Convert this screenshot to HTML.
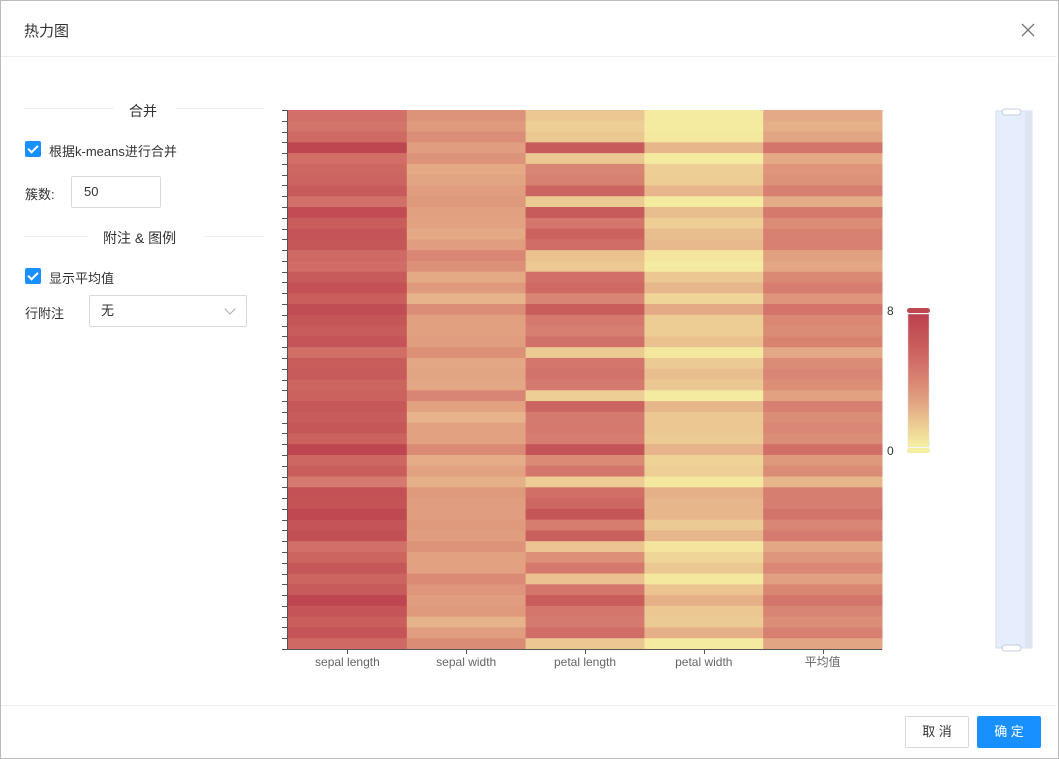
<!DOCTYPE html>
<html><head><meta charset="utf-8">
<style>
body{margin:0;width:1059px;height:759px;background:#fff;font-family:"Liberation Sans","Noto Sans CJK SC",sans-serif;color:#333;overflow:hidden;position:relative}
.abs{position:absolute}
.dlg{left:0;top:0;width:1057px;height:757px;border:1px solid #bbb;}
.cb{width:16px;height:16px;background:#1890ff;border-radius:2px;}
.cb::after{content:"";position:absolute;left:5px;top:2px;width:4px;height:8px;border:solid #fff;border-width:0 2px 2px 0;transform:rotate(45deg)}
.sec{font-size:14px;color:#333}
.line{height:1px;background:#eee}
</style></head><body>
<div class="abs dlg"></div>
<div class="abs" style="left:24px;top:20px;font-size:15px">热力图</div>
<svg class="abs" style="left:1021px;top:23px" width="14" height="14"><path d="M1 1L13 13M13 1L1 13" stroke="#777" stroke-width="1.3"/></svg>
<div class="abs line" style="left:1px;top:56px;width:1056px"></div>

<div class="abs line" style="left:24px;top:108px;width:90px"></div>
<div class="abs sec" style="left:129px;top:101px">合并</div>
<div class="abs line" style="left:176px;top:108px;width:88px"></div>
<div class="abs cb" style="left:25px;top:141px"></div>
<div class="abs" style="left:49px;top:141px;font-size:13px">根据k-means进行合并</div>
<div class="abs" style="left:25px;top:184px;font-size:13px">簇数:</div>
<div class="abs" style="left:71px;top:176px;border:1px solid #d9d9d9;border-radius:2px;font-size:13px;line-height:30px;padding-left:12px;box-sizing:border-box;width:90px;height:32px">50</div>
<div class="abs line" style="left:24px;top:236px;width:64px"></div>
<div class="abs sec" style="left:103px;top:228px">附注 &amp; 图例</div>
<div class="abs line" style="left:203px;top:236px;width:61px"></div>
<div class="abs cb" style="left:25px;top:268px"></div>
<div class="abs" style="left:49px;top:268px;font-size:13px">显示平均值</div>
<div class="abs" style="left:25px;top:303px;font-size:13px">行附注</div>
<div class="abs" style="left:89px;top:295px;width:158px;height:32px;border:1px solid #d9d9d9;border-radius:2px;box-sizing:border-box;font-size:13px;line-height:30px;padding-left:11px">无<span class="abs" style="right:12px;top:9px;width:7px;height:7px;border:solid #aaa;border-width:0 1px 1px 0;transform:rotate(45deg)"></span></div>

<svg class="abs" style="left:0;top:0" width="1059" height="759" id="chart">
<defs><linearGradient id="lg" x1="0" y1="1" x2="0" y2="0">
<stop offset="0" stop-color="#f6f0a2"/><stop offset="0.175" stop-color="#ecca93"/><stop offset="0.31" stop-color="#e4aa86"/><stop offset="0.44" stop-color="#dc9078"/><stop offset="0.59" stop-color="#d4766c"/><stop offset="0.75" stop-color="#c95e5c"/><stop offset="1" stop-color="#bc424e"/></linearGradient></defs>
<g id="cells"></g><g id="axes"></g>
<g>
<rect x="908" y="314" width="21" height="133" fill="url(#lg)" stroke="#ddd" stroke-width="0.5"/>
<rect x="907" y="308" width="23" height="5" rx="2.5" fill="#c0464f"/>
<rect x="907" y="448" width="23" height="5" rx="2.5" fill="#f4eea0"/>
<text x="887" y="315" font-size="12" fill="#333">8</text>
<text x="887" y="455" font-size="12" fill="#333">0</text>
</g>
<g>
<rect x="996" y="111" width="36" height="537" fill="#e6edfc" stroke="#d3ddf0"/>
<rect x="1025" y="111" width="7" height="537" fill="#dde4f2"/>
<rect x="1002" y="109" width="19" height="6" rx="3" fill="#fff" stroke="#c4cde0"/>
<rect x="1002" y="645" width="19" height="6" rx="3" fill="#fff" stroke="#c4cde0"/>
</g>
</svg>

<div class="abs line" style="left:1px;top:705px;width:1056px"></div>
<div class="abs" style="left:905px;top:716px;width:64px;height:32px;border:1px solid #d9d9d9;border-radius:2px;box-sizing:border-box;text-align:center;line-height:30px;font-size:13px">取 消</div>
<div class="abs" style="left:977px;top:716px;width:64px;height:32px;background:#1890ff;border-radius:2px;color:#fff;text-align:center;line-height:32px;font-size:13px">确 定</div>

<script>
const categories=["sepal length","sepal width","petal length","petal width","平均值"];
const sepalLength=[5.0,4.8,5.4,7.7,5.1,5.5,5.6,6.3,5.0,7.3,6.1,6.7,6.5,5.4,5.2,6.3,6.9,6.0,7.2,6.6,6.2,6.7,5.1,6.1,6.3,5.7,5.8,6.4,6.2,6.5,5.8,7.7,5.5,6.1,4.5,6.9,6.8,7.6,6.7,7.1,5.0,5.7,6.5,5.7,6.3,7.7,6.7,6.0,6.7,5.4];
const sepalWidth=[3.4,3.1,3.6,3.0,3.4,2.5,2.7,3.0,3.2,2.9,2.8,2.5,3.0,3.9,3.5,2.5,3.1,2.2,3.6,2.9,2.9,3.0,3.5,2.6,2.7,2.6,4.0,2.8,2.2,2.8,2.8,3.8,2.4,2.8,2.3,3.1,3.0,3.0,3.1,3.0,3.4,2.8,2.8,3.8,3.3,3.0,3.1,2.2,3.0,3.7];
const petalLength=[1.5,1.2,1.5,6.3,1.5,4.0,4.2,5.6,1.4,6.3,4.7,5.8,5.2,1.7,1.5,5.0,5.4,4.0,6.1,4.6,4.3,5.0,1.4,4.7,4.9,4.5,1.2,5.6,4.5,4.6,4.4,6.7,3.8,4.7,1.3,5.1,5.5,6.6,4.4,5.9,1.6,3.5,4.6,1.7,4.7,6.1,4.7,4.5,5.2,1.5];
const petalWidth=[0.2,0.2,0.3,2.1,0.2,1.2,1.3,2.1,0.2,1.8,1.2,1.8,2.0,0.4,0.2,1.5,2.1,1.0,2.5,1.3,1.3,1.7,0.3,1.4,1.8,1.5,0.2,2.1,1.5,1.5,1.4,2.2,1.1,1.2,0.3,2.3,2.1,2.1,1.4,2.1,0.4,1.0,1.5,0.3,1.6,2.3,1.5,1.4,2.3,0.2];
const valueMin=0, valueMax=8;
const stops=[[0,[246,240,162]],[1.4,[236,202,147]],[2.5,[228,170,134]],[3.5,[220,144,120]],[4.7,[212,118,108]],[6,[201,94,92]],[8,[188,66,78]]];
function color(v){v=Math.max(valueMin,Math.min(valueMax,v));for(let i=1;i<stops.length;i++){if(v<=stops[i][0]){const a=stops[i-1],b=stops[i],t=(v-a[0])/(b[0]-a[0]);return 'rgb('+a[1].map((c,k)=>Math.round(c+(b[1][k]-c)*t)).join(',')+')';}}return 'rgb(188,66,78)';}
const X0=288,X1=882,Y0=110,Y1=649;
const n=sepalLength.length;
const series=[sepalLength,sepalWidth,petalLength,petalWidth];
const avg=sepalLength.map((_,i)=>(sepalLength[i]+sepalWidth[i]+petalLength[i]+petalWidth[i])/4);
series.push(avg);
const cw=(X1-X0)/categories.length, rh=(Y1-Y0)/n;
const xPos=c=>X0+c*cw, yPos=r=>Y0+r*rh;
const NS='http://www.w3.org/2000/svg';
const g=document.getElementById('cells');
series.forEach((s,c)=>s.forEach((v,r)=>{
 const el=document.createElementNS(NS,'rect');
 el.setAttribute('x',xPos(c));el.setAttribute('y',yPos(r));
 el.setAttribute('width',cw+0.5);el.setAttribute('height',rh+0.5);
 el.setAttribute('fill',color(v));
 
 
 g.appendChild(el);
}));
const ax=document.getElementById('axes');
function line(x1,y1,x2,y2){const l=document.createElementNS(NS,'line');l.setAttribute('x1',x1);l.setAttribute('y1',y1);l.setAttribute('x2',x2);l.setAttribute('y2',y2);l.setAttribute('stroke','#555');l.setAttribute('stroke-width','1');ax.appendChild(l);return l;}
const ya=line(287.5,Y0,287.5,Y1);


for(let r=0;r<=n;r++){const t=line(282,Math.round(yPos(r))+0.5,287,Math.round(yPos(r))+0.5);

}
const xa=line(X0-1,Y1+0.5,X1,Y1+0.5);


categories.forEach((c,i)=>{
 const cx=xPos(i)+cw/2;
 const t=line(Math.round(cx)+0.5,Y1,Math.round(cx)+0.5,Y1+5);
 
 
 const tx=document.createElementNS(NS,'text');
 tx.setAttribute('x',cx);tx.setAttribute('y',666);tx.setAttribute('text-anchor','middle');
 tx.setAttribute('font-size','12');tx.setAttribute('fill','#666');tx.textContent=c;
 
 
 ax.appendChild(tx);
});
</script>
</body></html>
